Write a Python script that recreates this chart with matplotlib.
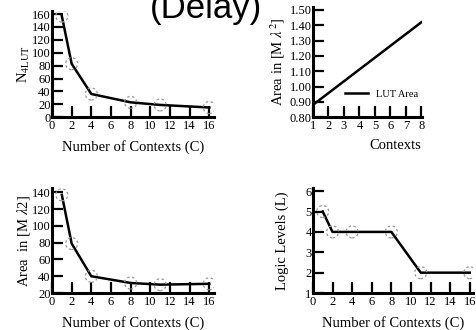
import matplotlib
matplotlib.use('Agg')
import matplotlib.pyplot as plt

plt.rcParams['font.family'] = 'Liberation Serif'
plt.rcParams['mathtext.fontset'] = 'stix'

# data
ctx = [1, 2, 4, 8, 11, 16]
n4lut = [157, 83, 36, 23, 19, 15]
area_ctx = [137, 79, 40, 32, 30, 31]
levels = [5, 4, 4, 4, 2, 2]

lut_ctx = [1, 8]
lut_area = [0.88, 1.42]


def style(ax, xlim, ylim, xticks, yticks, yfmt=None):
    for s in ['top', 'right']:
        ax.spines[s].set_visible(False)
    for s in ['left', 'bottom']:
        ax.spines[s].set_linewidth(2.2)
    ax.set_xlim(*xlim)
    ax.set_ylim(*ylim)
    ax.set_xticks(xticks)
    ax.set_yticks(yticks)
    if yfmt:
        ax.set_yticklabels([yfmt % v for v in yticks])
    ax.tick_params(direction='in', length=8, width=1.6, labelsize=9, pad=1)
    ax.tick_params(axis='x', pad=2)


fig = plt.figure(figsize=(4.77, 3.30), dpi=100)

# top left
ax1 = fig.add_axes([0.109, 0.645, 0.340, 0.322])
ax1.plot(ctx, n4lut, color='black', lw=1.8)
ax1.scatter(ctx, n4lut, s=75, facecolors='none', edgecolors='#999999', linestyles=(0, (2, 2)), lw=0.9, zorder=3)
style(ax1, (0, 16.5), (0, 165), range(0, 17, 2), range(0, 161, 20))
ax1.set_ylabel(r'N$_{\mathrm{4LUT}}$', fontsize=10.5, labelpad=0)
ax1.set_xlabel('Number of Contexts (C)', fontsize=10.5, labelpad=6)

# top right
ax2 = fig.add_axes([0.656, 0.645, 0.229, 0.334])
ax2.plot(lut_ctx, lut_area, color='black', lw=1.8, label='LUT Area')
style(ax2, (1, 8.05), (0.8, 1.52), range(1, 9), [0.8 + 0.1 * i for i in range(8)], '%.2f')
ax2.set_ylabel(r'Area in [M $\lambda^2$]', fontsize=10.5, labelpad=2)
ax2.set_xlabel('Contexts', fontsize=10.5, labelpad=6)
ax2.xaxis.set_label_coords(0.75, -0.2)
ax2.legend(loc='lower right', frameon=False, fontsize=7.5, handlelength=2.2,
           bbox_to_anchor=(1.05, 0.08))

# bottom left
ax3 = fig.add_axes([0.109, 0.112, 0.340, 0.318])
ax3.plot(ctx, area_ctx, color='black', lw=1.8)
ax3.scatter(ctx, area_ctx, s=75, facecolors='none', edgecolors='#999999', linestyles=(0, (2, 2)), lw=0.9, zorder=3)
style(ax3, (0, 16.5), (20, 145), range(0, 17, 2), range(20, 141, 20))
ax3.set_ylabel(r'Area  in [M $\lambda$2]', fontsize=10.5, labelpad=0)
ax3.set_xlabel('Number of Contexts (C)', fontsize=10.5, labelpad=6)

# bottom right
ax4 = fig.add_axes([0.656, 0.112, 0.335, 0.318])
ax4.plot(ctx, levels, color='black', lw=1.8)
ax4.scatter(ctx, levels, s=75, facecolors='none', edgecolors='#999999', linestyles=(0, (2, 2)), lw=0.9, zorder=3)
style(ax4, (0, 16.3), (1, 6.15), range(0, 17, 2), range(1, 7))
ax4.set_ylabel('Logic Levels (L)', fontsize=10.5, labelpad=12)
ax4.set_xlabel('Number of Contexts (C)', fontsize=10.5, labelpad=6)

# cut-off title at the top
fig.text(0.432, 0.975, '(Delay)', family='Liberation Sans', fontsize=25, ha='center', va='center')

fig.savefig('out.png', dpi=100)
